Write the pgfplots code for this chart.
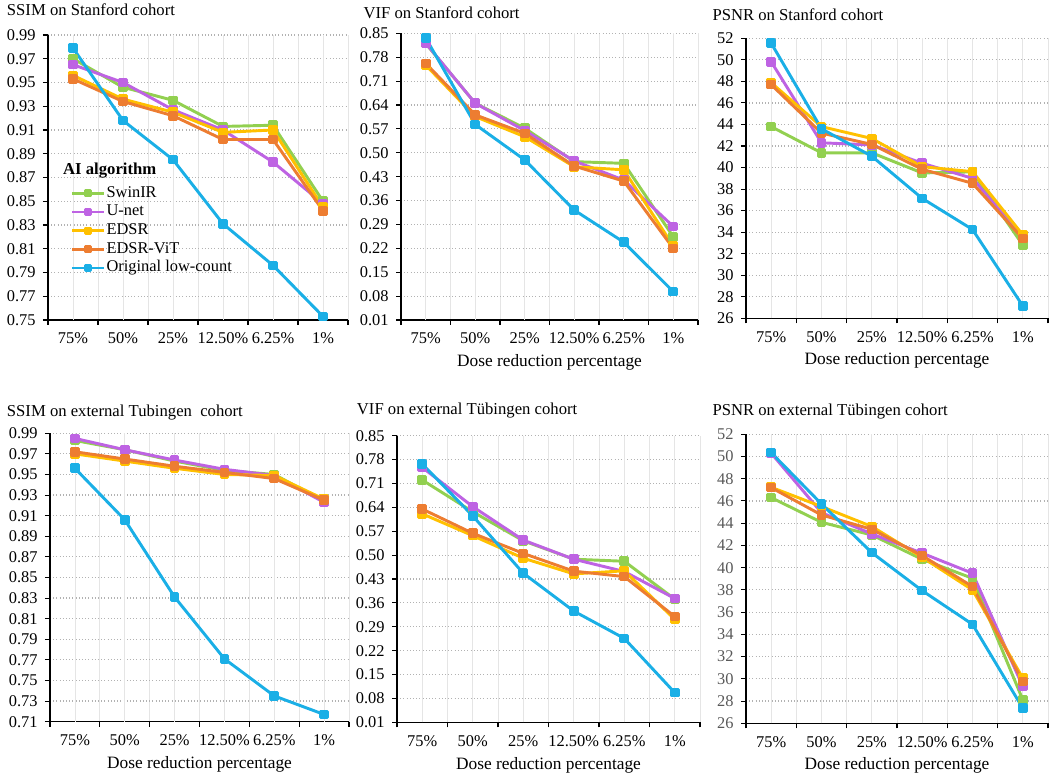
\documentclass[border=0pt]{standalone}
\usepackage{fontspec}
\setmainfont{Liberation Serif}
\usepackage{pgfplots}
\usepackage{pgfplotstable}
\pgfplotsset{compat=1.18}
\definecolor{cswin}{HTML}{92D050}
\definecolor{cunet}{HTML}{BE63E3}
\definecolor{cedsr}{HTML}{FFC000}
\definecolor{cvit}{HTML}{ED7D31}
\definecolor{corig}{HTML}{1AAFE6}

\pgfplotstableread{
x swin unet edsr vit orig
0 0.970 0.965 0.956 0.953 0.979
1 0.946 0.950 0.936 0.934 0.918
2 0.935 0.927 0.925 0.922 0.885
3 0.913 0.910 0.908 0.902 0.831
4 0.914 0.883 0.910 0.902 0.796
5 0.850 0.848 0.845 0.842 0.753
}\tSSIMs
\pgfplotstableread{
x swin unet edsr vit orig
0 0.820 0.821 0.757 0.762 0.836
1 0.645 0.645 0.606 0.611 0.583
2 0.572 0.565 0.547 0.557 0.479
3 0.474 0.476 0.459 0.461 0.332
4 0.469 0.420 0.450 0.417 0.238
5 0.254 0.284 0.227 0.220 0.093
}\tVIFs
\pgfplotstableread{
x swin unet edsr vit orig
0 43.80 49.83 47.88 47.70 51.55
1 41.37 42.30 43.80 43.20 43.60
2 41.37 42.10 42.70 42.15 41.05
3 39.50 40.40 40.08 39.84 37.14
4 39.60 39.00 39.62 38.54 34.25
5 32.80 33.50 33.74 33.40 27.15
}\tPSNRs
\pgfplotstableread{
x swin unet edsr vit orig
0 0.983 0.985 0.970 0.972 0.956
1 0.974 0.974 0.963 0.965 0.906
2 0.963 0.964 0.956 0.958 0.831
3 0.954 0.955 0.950 0.952 0.771
4 0.950 0.949 0.949 0.946 0.735
5 0.924 0.923 0.926 0.925 0.717
}\tSSIMt
\pgfplotstableread{
x swin unet edsr vit orig
0 0.720 0.757 0.621 0.635 0.767
1 0.627 0.642 0.557 0.564 0.615
2 0.542 0.544 0.491 0.505 0.447
3 0.488 0.488 0.445 0.453 0.336
4 0.482 0.452 0.454 0.437 0.256
5 0.371 0.373 0.312 0.320 0.097
}\tVIFt
\pgfplotstableread{
x swin unet edsr vit orig
0 46.30 50.30 47.23 47.20 50.35
1 44.08 44.95 45.50 44.74 45.73
2 42.94 43.03 43.70 43.45 41.35
3 40.75 41.30 40.93 41.08 37.93
4 39.04 39.50 38.00 38.30 34.90
5 28.10 29.30 30.05 29.75 27.35
}\tPSNRt

\pgfplotsset{
 panel/.style={
  scale only axis, clip=false,
  xmin=-0.5, xmax=5.5,
  axis x line*=bottom, axis y line*=left,
  axis line style={black, line width=0.8pt, -},
  tick align=outside,
  major tick length=3.75pt, minor tick length=0pt,
  tick style={black, line width=0.8pt},
  xtick={-0.5,0.5,1.5,2.5,3.5,4.5,5.5},
  xticklabels={},
  extra x ticks={0,1,2,3,4,5},
  extra x tick labels={75\%,50\%,25\%,12.50\%,6.25\%,1\%},
  extra x tick style={major tick length=0pt, grid=major, major grid style={solid, line width=0.6pt, color=black!10}},
  xmajorgrids=true, ymajorgrids=false,
  major grid style={solid, line width=0.6pt, color=black!10},
  yminorgrids=true,
  minor grid style={dotted, line width=0.9pt, color=black!30},
  ticklabel style={font=\fontsize{12.3}{14}\selectfont, text=black},
  /pgf/number format/assume math mode=true,
  xticklabel style={anchor=base, yshift=-18pt},
  yticklabel style={anchor=east, xshift=-2pt},
  xlabel style={font=\fontsize{13}{15}\selectfont, at={(axis description cs:0.5,0)}, anchor=base, yshift=-35pt},
 },
 ssim/.style={yticklabel style={/pgf/number format/.cd, fixed, fixed zerofill, precision=2}},
 psnr/.style={ymin=26, ymax=52, ytick={26,28,...,52}, minor ytick={26,28,...,52}},
 vif/.style={ymin=0.01, ymax=0.85,
   ytick={0.01,0.08,0.15,0.22,0.29,0.36,0.43,0.50,0.57,0.64,0.71,0.78,0.85},
   minor ytick={0.01,0.08,0.15,0.22,0.29,0.36,0.43,0.50,0.57,0.64,0.71,0.78,0.85},
   yticklabel style={/pgf/number format/.cd, fixed, fixed zerofill, precision=2}},
 ser/.style={line width=2.2pt, mark=square*, mark size=2.5pt, line join=round, mark options={solid}},
}

\newcommand{\fiveplots}[1]{%
  \addplot[ser, color=cswin] table[x=x,y=swin]{#1};
  \addplot[ser, color=cunet] table[x=x,y=unet]{#1};
  \addplot[ser, color=cedsr] table[x=x,y=edsr]{#1};
  \addplot[ser, color=cvit] table[x=x,y=vit]{#1};
  \addplot[ser, color=corig] table[x=x,y=orig]{#1};
}

\begin{document}
\begin{tikzpicture}
\useasboundingbox (0,0) rectangle (787.5pt,581.25pt);

% Panel 1
\begin{axis}[panel, ssim, at={(36pt,341.25pt)}, anchor=south west, width=225pt, height=213.75pt,
  ymin=0.75, ymax=0.99,
  ytick={0.75,0.77,0.79,0.81,0.83,0.85,0.87,0.89,0.91,0.93,0.95,0.97,0.99},
  minor ytick={0.75,0.77,0.79,0.81,0.83,0.85,0.87,0.89,0.91,0.93,0.95,0.97,0.99},
  legend image code/.code={\draw[#1, mark repeat=2, mark phase=2, mark size=2pt, line width=2.2pt] plot coordinates {(0cm,0cm)(0.42cm,0cm)(0.84cm,0cm)};},
  legend style={at={(0.075,0.478)}, anchor=north west, draw=none, fill=none,
    font=\fontsize{12.3}{14}\selectfont, inner sep=0pt, row sep=0pt,
    nodes={text height=9pt, text depth=3.5pt, inner sep=0.75pt}},
  legend cell align=left]
\fiveplots{\tSSIMs}
\legend{SwinIR,U-net,EDSR,EDSR-ViT,Original low-count}
\node[anchor=base west, font=\bfseries\fontsize{12.5}{15}\selectfont] at (rel axis cs:0.035,0.51) {AI algorithm};
\end{axis}

% Panel 2
\begin{axis}[panel, vif, at={(300.75pt,341.25pt)}, anchor=south west, width=222.75pt, height=215pt,
  xlabel={Dose reduction percentage}]
\fiveplots{\tVIFs}
\end{axis}

% Panel 3
\begin{axis}[panel, psnr, at={(559.5pt,342.5pt)}, anchor=south west, width=226.5pt, height=210pt,
  xlabel={Dose reduction percentage}]
\fiveplots{\tPSNRs}
\end{axis}

% Panel 4
\begin{axis}[panel, ssim, at={(37.5pt,40pt)}, anchor=south west, width=224.25pt, height=216.3pt,
  ymin=0.71, ymax=0.99,
  ytick={0.71,0.73,0.75,0.77,0.79,0.81,0.83,0.85,0.87,0.89,0.91,0.93,0.95,0.97,0.99},
  minor ytick={0.71,0.73,0.75,0.77,0.79,0.81,0.83,0.85,0.87,0.89,0.91,0.93,0.95,0.97,0.99},
  xlabel={Dose reduction percentage}]
\fiveplots{\tSSIMt}
\end{axis}

% Panel 5
\begin{axis}[panel, vif, at={(297.75pt,39.5pt)}, anchor=south west, width=227.25pt, height=215pt,
  xlabel={Dose reduction percentage}]
\fiveplots{\tVIFt}
\end{axis}

% Panel 6
\begin{axis}[panel, psnr, at={(559.5pt,38.8pt)}, anchor=south west, width=226.5pt, height=216.75pt,
  xlabel={Dose reduction percentage}, yticklabel style={text=black!65}]
\fiveplots{\tPSNRt}
\end{axis}

\begin{scope}[every node/.style={anchor=base west, font=\fontsize{12.5}{15}\selectfont, inner sep=0pt}]
\node at (5pt,569.5pt) {SSIM on Stanford cohort};
\node at (272.5pt,567.5pt) {VIF on Stanford cohort};
\node at (534.2pt,565.7pt) {PSNR on Stanford cohort};
\node at (5pt,268.75pt) {SSIM on external Tubingen\ \ cohort};
\node at (267.5pt,270pt) {VIF on external Tübingen cohort};
\node at (534.2pt,269.25pt) {PSNR on external Tübingen cohort};
\end{scope}
\end{tikzpicture}
\end{document}
